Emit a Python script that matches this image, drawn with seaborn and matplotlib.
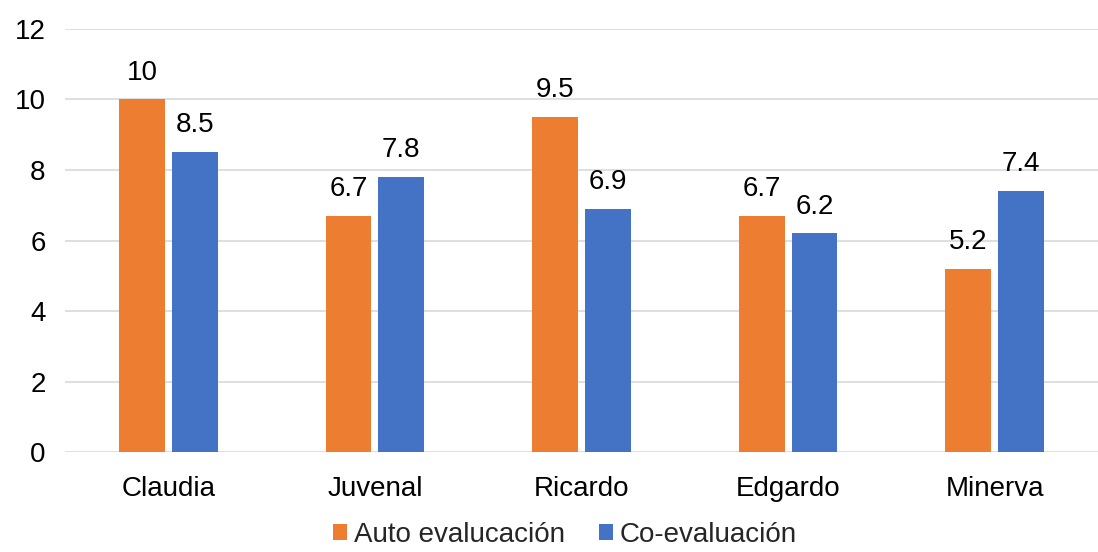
import matplotlib
matplotlib.use("Agg")
import matplotlib.pyplot as plt
import seaborn as sns
import pandas as pd
from matplotlib.patches import Patch

nombres = ["Claudia", "Juvenal", "Ricardo", "Edgardo", "Minerva"]
auto_eval = [10, 6.7, 9.5, 6.7, 5.2]
co_eval = [8.5, 7.8, 6.9, 6.2, 7.4]
series = ["Auto evalucación", "Co-evaluación"]
y_ticks = [0, 2, 4, 6, 8, 10, 12]

colores = ["#ED7D31", "#4472C4"]

df = pd.DataFrame({
    "nombre": nombres * 2,
    "valor": auto_eval + co_eval,
    "serie": [series[0]] * len(nombres) + [series[1]] * len(nombres),
})

sns.set_theme(style="white")
plt.rcParams["font.family"] = ["Liberation Sans", "DejaVu Sans"]

fig = plt.figure(figsize=(10.98, 5.52), dpi=100)
ax = fig.add_axes([0.0592, 0.181, 0.9408, 0.7665])

sns.barplot(data=df, x="nombre", y="valor", hue="serie", hue_order=series,
            palette=colores, width=0.51, gap=0.13, ax=ax, legend=False,
            errorbar=None, saturation=1, linewidth=0)

ax.set_ylim(0, 12)
ax.set_xlim(-0.5, len(nombres) - 0.5)
ax.set_yticks(y_ticks)
ax.yaxis.grid(True, color="#D9D9D9", linewidth=1.2)
ax.set_axisbelow(True)
for s in ax.spines.values():
    s.set_visible(False)
ax.set_xlabel("")
ax.set_ylabel("")
ax.tick_params(axis="both", length=0, labelsize=20, colors="black")
ax.tick_params(axis="x", pad=17)
ax.tick_params(axis="y", pad=14)

for cont in ax.containers:
    ax.bar_label(cont, labels=[f"{v:g}" for v in cont.datavalues],
                 padding=10, fontsize=20, color="black")

handles = [Patch(facecolor=c, edgecolor="none") for c in colores]
fig.legend(handles, series, loc="lower center", ncol=2, frameon=False,
           fontsize=20, bbox_to_anchor=(0.5146, -0.038), handlelength=0.5,
           handleheight=0.5, handletextpad=0.25, columnspacing=1.2)

fig.savefig("out.png", dpi=100)
